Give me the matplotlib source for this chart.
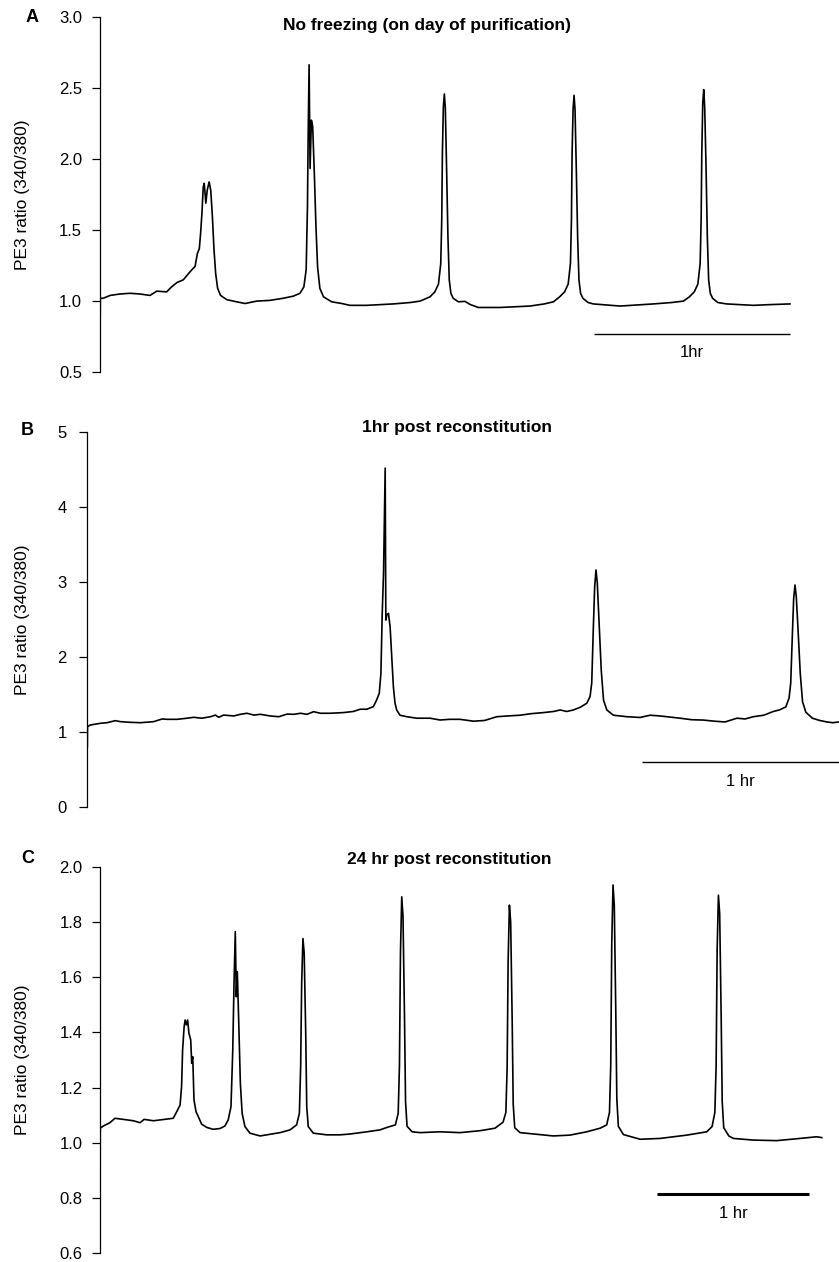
import matplotlib
matplotlib.use("Agg")
import matplotlib.pyplot as plt

# panel A: no freezing (time in min, ratio 340/380)
time_a = [0, 0.1, 1.0, 3.1, 6.1, 9.2, 12.2, 15.3, 17.4, 20.4, 21.9, 23.5, 25.5, 27.5, 29.1,
          29.8, 30.4, 30.8, 31.2, 31.6, 31.9, 32.4, 32.8, 33.4, 33.9, 34.4, 34.9, 35.4,
          36.0, 36.9, 38.8, 41.8, 44.4, 48.0, 52.0, 56.1, 59.2, 61.2, 62.4, 63.1, 63.5,
          63.7, 64.0, 64.3, 64.7, 65.1, 65.6, 66.1, 66.6, 67.3, 68.4, 70.9, 74.0, 76.5,
          81.6, 89.8, 95.0, 98.0, 101.0, 102.5, 103.6, 104.3, 104.6, 104.8, 105.1, 105.4,
          105.7, 106.1, 106.5, 106.9, 107.4, 108.1, 109.7, 111.7, 113.3, 115.8, 122.4,
          131.6, 136.0, 138.8, 140.7, 142.2, 143.3, 144.0, 144.3, 144.5, 144.8, 145.1,
          145.4, 145.8, 146.2, 146.6, 147.1, 147.8, 149.4, 151.0, 159.2, 169.4, 175.0,
          178.6, 180.4, 181.9, 183.0, 183.7, 184.0, 184.2, 184.5, 184.8, 185.1, 185.5,
          185.9, 186.3, 186.8, 187.5, 189.1, 191.8, 200.0, 205.0, 211.2]
ratio_a = [0.72, 1.02, 1.02, 1.04, 1.05, 1.055, 1.05, 1.04, 1.07, 1.065, 1.10, 1.13, 1.15, 1.205, 1.245,
           1.335, 1.37, 1.48, 1.62, 1.805, 1.83, 1.69, 1.78, 1.84, 1.78, 1.595, 1.36, 1.195,
           1.09, 1.04, 1.01, 0.995, 0.983, 1.00, 1.005, 1.02, 1.035, 1.055, 1.10, 1.22, 1.665,
           2.135, 2.665, 1.935, 2.275, 2.23, 1.90, 1.525, 1.24, 1.09, 1.03, 0.995, 0.983, 0.97,
           0.97, 0.98, 0.99, 1.00, 1.03, 1.065, 1.12, 1.265, 1.57, 2.04, 2.37, 2.46,
           2.36, 1.92, 1.45, 1.15, 1.055, 1.02, 0.995, 0.998, 0.976, 0.955, 0.955,
           0.965, 0.98, 0.995, 1.03, 1.065, 1.12, 1.265, 1.57, 2.04, 2.35, 2.45,
           2.35, 1.92, 1.45, 1.15, 1.055, 1.02, 0.99, 0.98, 0.965, 0.98, 0.99,
           1.00, 1.03, 1.065, 1.12, 1.265, 1.57, 2.04, 2.40, 2.49, 2.36, 1.95,
           1.45, 1.15, 1.055, 1.02, 0.99, 0.98, 0.97, 0.975, 0.98]

# panel B: 1 hr post reconstitution
time_b = [0, 0.05, 0.9, 4.0, 6.0, 8.5, 10.1, 13.1, 16.2, 20.2, 22.8, 24.3, 27.3, 30.4, 32.4,
          34.9, 37.5, 39.0, 40.0, 41.5, 44.6, 46.6, 48.6, 50.7, 52.7, 55.7, 58.3, 60.8, 62.9,
          64.9, 66.9, 68.9, 71.0, 73.9, 78.0, 81.0, 83.1, 85.1, 87.1, 88.1, 88.9, 89.4, 89.8,
          90.2, 90.7, 90.9, 91.2, 91.7, 92.2, 92.7, 93.2, 93.7, 94.2, 95.2, 97.3, 100.3,
          104.4, 107.4, 110.4, 113.5, 117.6, 121.0, 124.7, 128.0, 131.8, 135.0, 138.9,
          142.0, 144.0, 146.0, 148.0, 150.1, 152.1, 153.1, 153.6, 154.1, 154.5, 154.9,
          155.3, 155.9, 156.5, 157.2, 158.2, 160.2, 164.3, 168.3, 171.4, 174.4, 178.5,
          180.5, 184.0, 187.6, 191.0, 194.2, 197.8, 200.3, 202.8, 206.0, 208.9, 210.7,
          212.7, 213.7, 214.2, 214.7, 215.1, 215.5, 215.9, 216.5, 217.1, 217.8, 218.8,
          220.8, 223.0, 225.2, 227.0, 228.9]
ratio_b = [0.80, 1.067, 1.089, 1.112, 1.12, 1.147, 1.134, 1.125, 1.12, 1.134, 1.17, 1.165, 1.165, 1.18, 1.192,
           1.18, 1.20, 1.222, 1.192, 1.222, 1.21, 1.232, 1.246, 1.222, 1.232, 1.21, 1.20, 1.235, 1.232,
           1.246, 1.232, 1.267, 1.246, 1.246, 1.255, 1.27, 1.30, 1.30, 1.334, 1.424, 1.513, 1.78, 2.58,
           3.12, 4.52, 2.49, 2.56, 2.58, 2.40, 2.0, 1.60, 1.38, 1.29, 1.22, 1.20, 1.18,
           1.18, 1.156, 1.165, 1.165, 1.14, 1.15, 1.20, 1.21, 1.22, 1.24, 1.255,
           1.27, 1.29, 1.27, 1.29, 1.326, 1.38, 1.47, 1.65, 2.40, 2.94, 3.16,
           2.98, 2.40, 1.82, 1.42, 1.29, 1.22, 1.20, 1.19, 1.22, 1.21, 1.19,
           1.18, 1.16, 1.155, 1.14, 1.13, 1.18, 1.17, 1.20, 1.22, 1.27, 1.29,
           1.33, 1.45, 1.65, 2.30, 2.78, 2.96, 2.80, 2.30, 1.78, 1.40, 1.26,
           1.18, 1.15, 1.13, 1.12, 1.13]

# panel C: 24 hr post reconstitution
time_c = [0, 0.1, 1.3, 3.9, 5.9, 9.2, 13.2, 15.8, 17.4, 21.1, 23.7, 28.9, 30.3, 31.6, 32.2,
          32.6, 33.2, 33.6, 34.1, 34.6, 35.1, 35.8, 36.2, 36.6, 37.1, 37.9, 38.8, 40.1, 42.1,
          44.7, 47.4, 49.3, 50.6, 51.7, 52.4, 52.9, 53.4, 53.8, 54.2, 54.7, 55.4, 56.1, 57.2,
          59.2, 63.2, 67.1, 71.1, 75.0, 77.6, 78.7, 79.2, 79.6, 80.1, 80.6, 81.2, 81.6, 82.2,
          84.2, 89.5, 94.7, 98.7, 105.3, 110.5, 114.0, 116.6, 117.7, 118.2, 118.6, 119.1,
          119.6, 120.2, 120.6, 121.2, 123.2, 126.3, 134.2, 142.1, 150.0, 155.9, 159.1,
          160.2, 160.7, 161.1, 161.6, 162.1, 162.7, 163.1, 163.7, 165.8, 172.4, 178.9,
          185.5, 192.1, 197.4, 200.0, 201.1, 201.6, 202.0, 202.5, 203.0, 203.6, 204.0,
          204.6, 206.6, 213.2, 221.1, 231.6, 239.5, 241.6, 242.7, 243.2, 243.6, 244.1,
          244.6, 245.2, 245.6, 246.2, 248.2, 250.0, 257.9, 267.1, 276.3, 282.9, 284.9]
ratio_c = [0.67, 1.053, 1.061, 1.073, 1.089, 1.085, 1.08, 1.073, 1.085, 1.08, 1.083, 1.089, 1.113, 1.137, 1.204,
           1.336, 1.42, 1.445, 1.427, 1.445, 1.397, 1.373, 1.288, 1.312, 1.155, 1.113, 1.095, 1.068, 1.056,
           1.049, 1.052, 1.061, 1.083, 1.131, 1.336, 1.578, 1.765, 1.529, 1.62, 1.457, 1.216, 1.107, 1.059,
           1.035, 1.025, 1.031, 1.037, 1.047, 1.065, 1.107, 1.276, 1.578, 1.74, 1.686, 1.397, 1.131, 1.059,
           1.035, 1.029, 1.029, 1.032, 1.04, 1.047, 1.058, 1.065, 1.107, 1.28, 1.69, 1.891,
           1.82, 1.45, 1.15, 1.06, 1.04, 1.037, 1.04, 1.037, 1.044, 1.053, 1.075,
           1.11, 1.27, 1.66, 1.861, 1.80, 1.44, 1.14, 1.055, 1.037, 1.031, 1.025,
           1.028, 1.04, 1.053, 1.065, 1.11, 1.28, 1.72, 1.934, 1.86, 1.47, 1.16,
           1.06, 1.03, 1.013, 1.016, 1.028, 1.04, 1.059, 1.11, 1.28, 1.70, 1.897,
           1.83, 1.45, 1.15, 1.055, 1.025, 1.016, 1.01, 1.008, 1.016, 1.022, 1.019]

titles = ["No freezing (on day of purification)", "1hr post reconstitution",
          "24 hr post reconstitution"]
letters = ["A", "B", "C"]
bar_labels = ["1hr", "1 hr", "1 hr"]
yticks_a = [0.5, 1.0, 1.5, 2.0, 2.5, 3.0]
yticks_b = [0, 1, 2, 3, 4, 5]
yticks_c = [0.6, 0.8, 1.0, 1.2, 1.4, 1.6, 1.8, 2.0]

SANS = "Liberation Sans"

fig = plt.figure(figsize=(8.39, 12.62), dpi=100)

panels = [
    # axes rect, data, ylim, ticks, tick fmt, xmax, scale bar (x0, y, text y, lw), title pos, letter pos
    dict(rect=[0.1192, 0.7052, 0.8808, 0.2811], t=time_a, r=ratio_a, ylim=(0.5, 3.0),
         ticks=yticks_a, fmt="%.1f", xmax=226.2, bar=(151.2, 0.767, 0.64, 1.0),
         title=(0.509, 0.980), letter=(0.038, 0.986), pad=7),
    dict(rect=[0.1041, 0.3609, 0.8959, 0.2966], t=time_b, r=ratio_b, ylim=(0, 5),
         ticks=yticks_b, fmt="%d", xmax=228.9, bar=(168.9, 0.595, 0.33, 1.0),
         title=(0.545, 0.6616), letter=(0.032, 0.659), pad=9),
    dict(rect=[0.1192, 0.0069, 0.8808, 0.3063], t=time_c, r=ratio_c, ylim=(0.6, 2.0),
         ticks=yticks_c, fmt="%.1f", xmax=291.7, bar=(219.9, 0.815, 0.745, 2.2),
         title=(0.536, 0.3193), letter=(0.033, 0.320), pad=6.5),
]

for i, p in enumerate(panels):
    ax = fig.add_axes(p["rect"])
    ax.plot(p["t"], p["r"], color="black", lw=1.2)
    ax.set_xlim(0, p["xmax"])
    ax.set_ylim(*p["ylim"])
    for s in ["top", "right", "bottom"]:
        ax.spines[s].set_visible(False)
    ax.spines["left"].set_linewidth(0.9)
    ax.set_xticks([])
    ax.set_yticks(p["ticks"])
    ax.set_yticklabels([p["fmt"] % v for v in p["ticks"]], fontfamily=SANS, fontsize=12)
    ax.tick_params(axis="y", length=6, width=0.9, pad=p["pad"], color="black")
    ax.patch.set_alpha(0)

    # 1 hr scale bar
    x0, yb, yt, lw = p["bar"]
    ax.plot([x0, x0 + 60], [yb, yb], color="black", lw=lw, clip_on=False,
            solid_capstyle="butt")
    ax.text(x0 + 30, yt, bar_labels[i], ha="center", va="center", fontsize=12,
            fontfamily=SANS)

    fig.text(p["title"][0], p["title"][1], titles[i], ha="center", va="center",
             fontsize=12.5, fontweight="bold", fontfamily=SANS)
    fig.text(p["letter"][0], p["letter"][1], letters[i], ha="center", va="center",
             fontsize=13, fontweight="bold", fontfamily=SANS)
    fig.text(0.0274, p["rect"][1] + p["rect"][3] / 2, "PE3 ratio (340/380)",
             rotation=90, ha="center", va="center", fontsize=12.5, fontfamily=SANS)

fig.savefig("out.png", dpi=100)
